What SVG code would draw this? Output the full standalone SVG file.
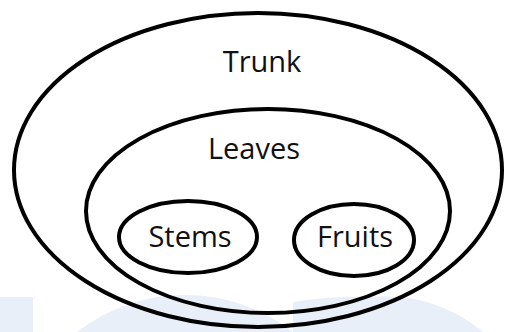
<svg xmlns="http://www.w3.org/2000/svg" width="505" height="332" viewBox="0 0 505 332">
<style>
.set{fill:none;stroke:#000;stroke-width:4}
.lbl{font-family:"Open Sans","Liberation Sans",sans-serif;font-size:29px;fill:#111;text-anchor:middle}
.wm{fill:#e9eff9}
</style>
<rect x="0" y="0" width="505" height="332" fill="#fff"/>
<g id="watermark">
<rect class="wm" x="0" y="297" width="33" height="35"/>
<path class="wm" d="M77,332 A176,176 0 0 1 293,332 Z"/>
<path class="wm" d="M293,332 L293,302 Q330,296 370,297 A150,150 0 0 1 483,332 Z"/>
</g>
<g id="trunk">
<ellipse class="set" cx="258" cy="170" rx="244" ry="157"/>
<text class="lbl" x="262" y="72">Trunk</text>
</g>
<g id="leaves">
<ellipse class="set" cx="268" cy="211" rx="182" ry="102"/>
<text class="lbl" x="254" y="159">Leaves</text>
</g>
<g id="stems">
<ellipse class="set" cx="188" cy="237" rx="69" ry="36"/>
<text class="lbl" x="190" y="247">Stems</text>
</g>
<g id="fruits">
<ellipse class="set" cx="354" cy="240" rx="60" ry="36"/>
<text class="lbl" x="355" y="247">Fruits</text>
</g>
<g id="connectors"/>
</svg>
